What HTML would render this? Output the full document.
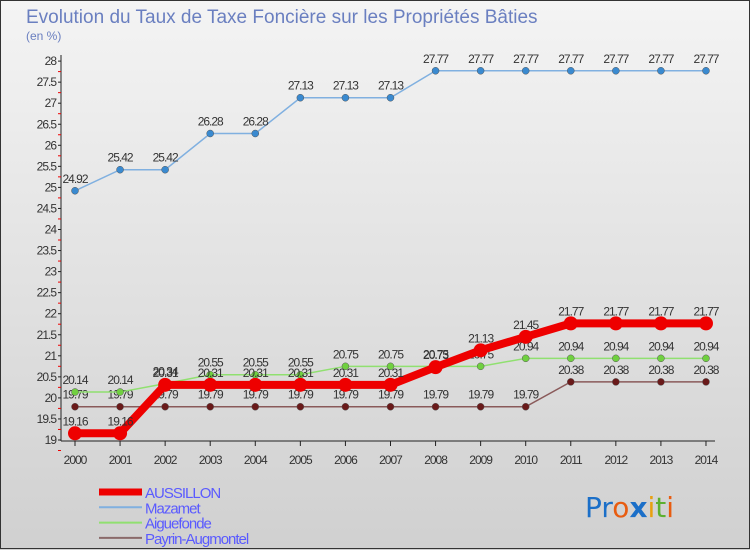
<!DOCTYPE html>
<html><head><meta charset="utf-8"><style>
body{margin:0;width:750px;height:550px;overflow:hidden;font-family:"Liberation Sans",sans-serif}
</style></head><body>
<svg width="750" height="550" xmlns="http://www.w3.org/2000/svg">
<defs><linearGradient id="bg" x1="0" y1="0" x2="0" y2="1"><stop offset="0" stop-color="#f4f4f4"/><stop offset="1" stop-color="#d0d0d0"/></linearGradient></defs>
<rect x="0" y="0" width="750" height="550" fill="url(#bg)"/>
<rect x="0.5" y="0.5" width="749" height="548" fill="none" stroke="#333"/>
<text x="26" y="23" font-size="19" fill="#6a7fc0">Evolution du Taux de Taxe Foncière sur les Propriétés Bâties</text>
<text x="26" y="40" font-size="12" fill="#6a7fc0">(en %)</text>
<g id="axes"></g><g id="series"></g><g id="legend"></g>
<text x="585" y="517" font-size="28" font-family="DejaVu Sans"><tspan fill="#1b6fc8">Pr</tspan><tspan fill="#e85c10">o</tspan><tspan fill="#1b6fc8" font-weight="bold">x</tspan><tspan fill="#e8a010">i</tspan><tspan fill="#5cb030">t</tspan><tspan fill="#e85c10">i</tspan></text>
</svg>
<script>
const years=[2000,2001,2002,2003,2004,2005,2006,2007,2008,2009,2010,2011,2012,2013,2014];
const yTicks=[19,19.5,20,20.5,21,21.5,22,22.5,23,23.5,24,24.5,25,25.5,26,26.5,27,27.5,28];
const aussillon=[19.16,19.16,20.31,20.31,20.31,20.31,20.31,20.31,20.73,21.13,21.45,21.77,21.77,21.77,21.77];
const mazamet=[24.92,25.42,25.42,26.28,26.28,27.13,27.13,27.13,27.77,27.77,27.77,27.77,27.77,27.77,27.77];
const aiguefonde=[20.14,20.14,20.34,20.55,20.55,20.55,20.75,20.75,20.75,20.75,20.94,20.94,20.94,20.94,20.94];
const payrin=[19.79,19.79,19.79,19.79,19.79,19.79,19.79,19.79,19.79,19.79,19.79,20.38,20.38,20.38,20.38];
const NS="http://www.w3.org/2000/svg";
const X=i=>75+i*45.07, Y=v=>440-(v-19)*42.1;
function mk(p,t,a){const e=document.createElementNS(NS,t);for(const k in a)e.setAttribute(k,a[k]);p.appendChild(e);return e;}
const ax=document.getElementById('axes');
const l1=mk(ax,'line',{x1:61,y1:55,x2:61,y2:441,stroke:'#222'});


const l2=mk(ax,'line',{x1:61,y1:441,x2:715,y2:441,stroke:'#222'});


yTicks.forEach(v=>{const y=Y(v);mk(ax,'line',{x1:58,y1:y,x2:61,y2:y,stroke:'#222'});
 mk(ax,'line',{x1:58,y1:y+10.5,x2:61,y2:y+10.5,stroke:'#e00'});
 const t=mk(ax,'text',{x:56,y:y+4,'font-size':12,'text-anchor':'end',fill:'#333','letter-spacing':'-1'});t.textContent=v;
 
 });
years.forEach((yr,i)=>{const x=X(i);mk(ax,'line',{x1:x,y1:441,x2:x,y2:446,stroke:'#222'});
 const t=mk(ax,'text',{x:x,y:464,'font-size':12,'text-anchor':'middle',fill:'#333','letter-spacing':'-1'});t.textContent=yr;
 
 });
const sg=document.getElementById('series');
function series(name,data,color,dot,w,r){
 const g=mk(sg,'g',{});
 
 
 mk(g,'polyline',{points:data.map((v,i)=>X(i)+','+Y(v)).join(' '),fill:'none',stroke:color,'stroke-width':w});
 data.forEach((v,i)=>{const c=mk(g,'circle',{cx:X(i),cy:Y(v),r:r,fill:dot,stroke:w>3?'none':'#555','stroke-width':0.5});
  
  
  const t=mk(g,'text',{x:X(i),y:Y(v)-8,'font-size':12,'text-anchor':'middle',fill:'#333','letter-spacing':'-1'});t.textContent=v;
  
  });
}
series('payrin',payrin,'#8a5a5a','#6a1a1a',1.5,3.5);
series('aiguefonde',aiguefonde,'#90e070','#70d040',1.5,3.5);
series('mazamet',mazamet,'#80b0e0','#3a8ad0',1.5,3.5);
series('aussillon',aussillon,'#ee0000','#ee0000',8,7);
const lg=document.getElementById('legend');
[['AUSSILLON','#ee0000',7],['Mazamet','#80b0e0',2],['Aiguefonde','#90e070',2],['Payrin-Augmontel','#8a6a6a',2]].forEach((d,i)=>{
 const y=492+i*15.3;
 const g=mk(lg,'g',{});
 
 
 mk(g,'line',{x1:99,y1:y,x2:142,y2:y,stroke:d[1],'stroke-width':d[2]});
 const t=mk(g,'text',{x:145,y:y+6,'font-size':15,fill:'#5a5aff','letter-spacing':'-1'});t.textContent=d[0];
});
</script>
</body></html>
